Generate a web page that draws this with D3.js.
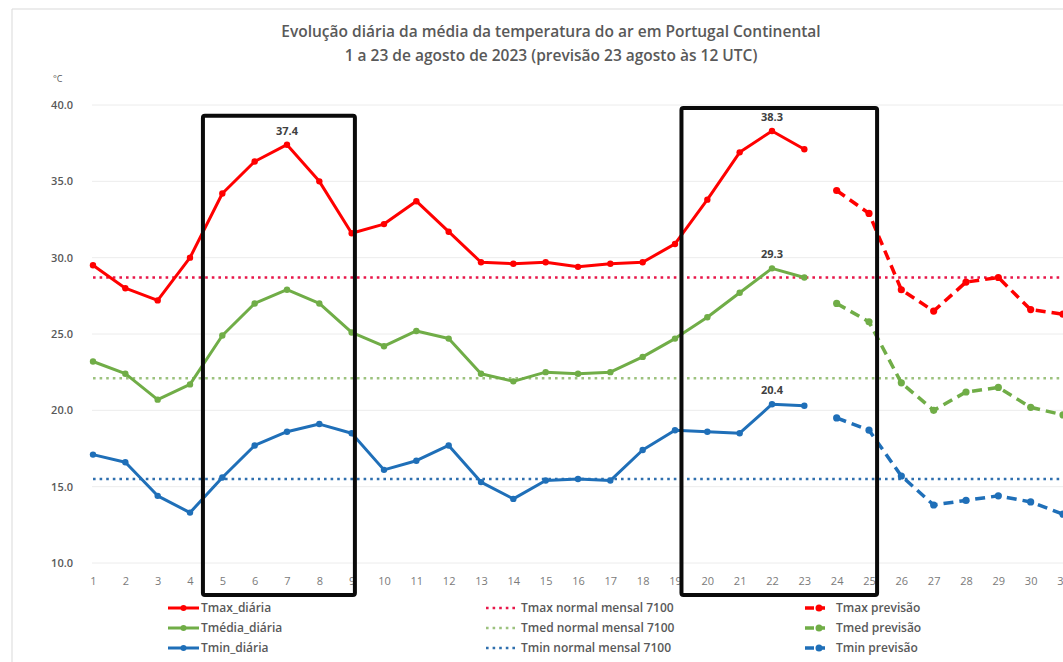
<!DOCTYPE html>
<html><head><meta charset="utf-8">
<script src="https://cdn.jsdelivr.net/npm/d3@7"></script>
<style>body{margin:0;background:#fff;} svg{display:block;}</style>
</head><body>
<svg id="c" width="1063" height="662"></svg>
<script>
const titleLines = ["Evolução diária da média da temperatura do ar em Portugal  Continental",
                    "1 a 23 de agosto de 2023 (previsão 23 agosto às 12 UTC)"];
const days = d3.range(1, 32);
const obsDays = d3.range(1, 24);
const fcDays = d3.range(24, 32);
const tmaxObs = [29.5,28.0,27.2,30.0,34.2,36.3,37.4,35.0,31.6,32.2,33.7,31.7,29.7,29.6,29.7,29.4,29.6,29.7,30.9,33.8,36.9,38.3,37.1];
const tmedObs = [23.2,22.4,20.7,21.7,24.9,27.0,27.9,27.0,25.1,24.2,25.2,24.7,22.4,21.9,22.5,22.4,22.5,23.5,24.7,26.1,27.7,29.3,28.7];
const tminObs = [17.1,16.6,14.4,13.3,15.6,17.7,18.6,19.1,18.5,16.1,16.7,17.7,15.3,14.2,15.4,15.5,15.4,17.4,18.7,18.6,18.5,20.4,20.3];
const tmaxFc = [34.4,32.9,27.9,26.5,28.4,28.7,26.6,26.3];
const tmedFc = [27.0,25.8,21.8,20.0,21.2,21.5,20.2,19.7];
const tminFc = [19.5,18.7,15.7,13.8,14.1,14.4,14.0,13.2];
const normals = [28.7, 22.1, 15.5]; // Tmax, Tmed, Tmin normal mensal 7100
const yTicks = [10,15,20,25,30,35,40];
const labelled = [[7,37.4],[22,38.3],[22,29.3],[22,20.4]];
const boxes = [[4.4,9.1,39.3,7.9],[19.2,25.25,39.8,7.9]];
const legendCol1 = ["Tmax_diária","Tmédia_diária","Tmin_diária"];
const legendCol2 = ["Tmax normal mensal 7100","Tmed normal mensal 7100","Tmin normal mensal 7100"];
const legendCol3 = ["Tmax previsão","Tmed previsão","Tmin previsão"];

const colors = ["#ff0000","#70ad47","#1f6fb8"];
const normColors = ["#e8174a","#9cc27e","#2f6fae"];
const svg = d3.select("#c");
const x = d3.scaleLinear().domain([1,31]).range([93,1063]);
const y = d3.scaleLinear().domain([10,40]).range([563,105]);
const gray = "#595959";
const FONT = "'Open Sans', sans-serif";

// frame
svg.append("path").attr("d","M12,662 L12,9 L1063,9").attr("fill","none").attr("stroke","#d9d9d9").attr("stroke-width",1);

// title
svg.selectAll(".title").data(titleLines).join("text")
  .attr("x",551).attr("y",(d,i)=>37+i*24).attr("text-anchor","middle")
  .attr("font-family",FONT).attr("font-size",15.5).attr("font-weight",600).attr("fill",gray).text(d=>d);

// grid + y axis
const yAxis = d3.axisLeft(y).tickValues(yTicks).tickFormat(d3.format(".1f")).tickSize(0).tickPadding(0);
const gy = svg.append("g").attr("transform","translate(73,0)").call(yAxis);
gy.select(".domain").remove();
gy.selectAll("text").attr("font-family",FONT).attr("font-size",11).attr("fill",gray).attr("font-weight",600);
svg.append("g").selectAll("line").data(yTicks).join("line")
  .attr("x1",x(1)-1).attr("x2",1063).attr("y1",d=>y(d)).attr("y2",d=>y(d))
  .attr("stroke","#ececec").attr("stroke-width",1);
svg.append("text").attr("x",53).attr("y",82).attr("font-family",FONT).attr("font-size",9).attr("fill",gray).text("°C");

// x axis
const xAxis = d3.axisBottom(x).tickValues(days).tickFormat(d3.format("d")).tickSize(0).tickPadding(0);
const gx = svg.append("g").attr("transform","translate(0,577)").call(xAxis);
gx.select(".domain").remove();
gx.selectAll("text").attr("font-family",FONT).attr("font-size",11).attr("fill","#7a7a7a");

// normals
svg.append("g").selectAll("line").data(normals).join("line")
  .attr("x1",x(1)).attr("x2",1063).attr("y1",d=>y(d)).attr("y2",d=>y(d))
  .attr("stroke",(d,i)=>normColors[i]).attr("stroke-width",2.6).attr("stroke-dasharray","2.6,4");

const line = d3.line().x(d=>x(d[0])).y(d=>y(d[1]));
const obs = [tmaxObs,tmedObs,tminObs].map(s=>obsDays.map((d,i)=>[d,s[i]]));
const fc = [tmaxFc,tmedFc,tminFc].map(s=>fcDays.map((d,i)=>[d,s[i]]));

// observed series
obs.forEach((s,i)=>{
  svg.append("path").datum(s).attr("d",line).attr("fill","none").attr("stroke",colors[i]).attr("stroke-width",3).attr("stroke-linejoin","round");
  svg.append("g").selectAll("circle").data(s).join("circle").attr("cx",d=>x(d[0])).attr("cy",d=>y(d[1])).attr("r",3.2).attr("fill",colors[i]);
});
// forecast series
fc.forEach((s,i)=>{
  svg.append("path").datum(s).attr("d",line).attr("fill","none").attr("stroke",colors[i]).attr("stroke-width",3.5).attr("stroke-dasharray","10,6");
  svg.append("g").selectAll("circle").data(s).join("circle").attr("cx",d=>x(d[0])).attr("cy",d=>y(d[1])).attr("r",3.6).attr("fill",colors[i]);
});

// data labels
svg.append("g").selectAll("text").data(labelled).join("text")
  .attr("x",d=>x(d[0])).attr("y",d=>y(d[1])-10).attr("text-anchor","middle")
  .attr("font-family",FONT).attr("font-size",11).attr("font-weight",700).attr("fill","#404040")
  .text(d=>d3.format(".1f")(d[1]));

// annotation boxes
svg.append("g").selectAll("rect").data(boxes).join("rect")
  .attr("x",d=>x(d[0])).attr("y",d=>y(d[2])).attr("width",d=>x(d[1])-x(d[0])).attr("height",d=>y(d[3])-y(d[2]))
  .attr("rx",2).attr("fill","none").attr("stroke","#0a0a0a").attr("stroke-width",4);

// legend
const rowsY = [608,628,648];
const lg = svg.append("g");
const LFS = 12;
legendCol1.forEach((t,i)=>{
  lg.append("line").attr("x1",168).attr("x2",199).attr("y1",rowsY[i]).attr("y2",rowsY[i]).attr("stroke",colors[i]).attr("stroke-width",3);
  lg.append("circle").attr("cx",183.5).attr("cy",rowsY[i]).attr("r",3).attr("fill",colors[i]);
  lg.append("text").attr("x",201).attr("y",rowsY[i]+4).attr("font-family",FONT).attr("font-size",LFS).attr("font-weight",600).attr("fill",gray).text(t);
});
legendCol2.forEach((t,i)=>{
  lg.append("line").attr("x1",486).attr("x2",518).attr("y1",rowsY[i]).attr("y2",rowsY[i]).attr("stroke",normColors[i]).attr("stroke-width",2.6).attr("stroke-dasharray","2.6,4");
  lg.append("text").attr("x",521).attr("y",rowsY[i]+4).attr("font-family",FONT).attr("font-size",LFS).attr("font-weight",600).attr("fill",gray).text(t);
});
legendCol3.forEach((t,i)=>{
  lg.append("line").attr("x1",805).attr("x2",833).attr("y1",rowsY[i]).attr("y2",rowsY[i]).attr("stroke",colors[i]).attr("stroke-width",3.5).attr("stroke-dasharray","9,4,0,0,0,4,3,100");
  lg.append("circle").attr("cx",819).attr("cy",rowsY[i]).attr("r",3.5).attr("fill",colors[i]);
  lg.append("text").attr("x",836).attr("y",rowsY[i]+4).attr("font-family",FONT).attr("font-size",LFS).attr("font-weight",600).attr("fill",gray).text(t);
});
</script>
</body></html>
